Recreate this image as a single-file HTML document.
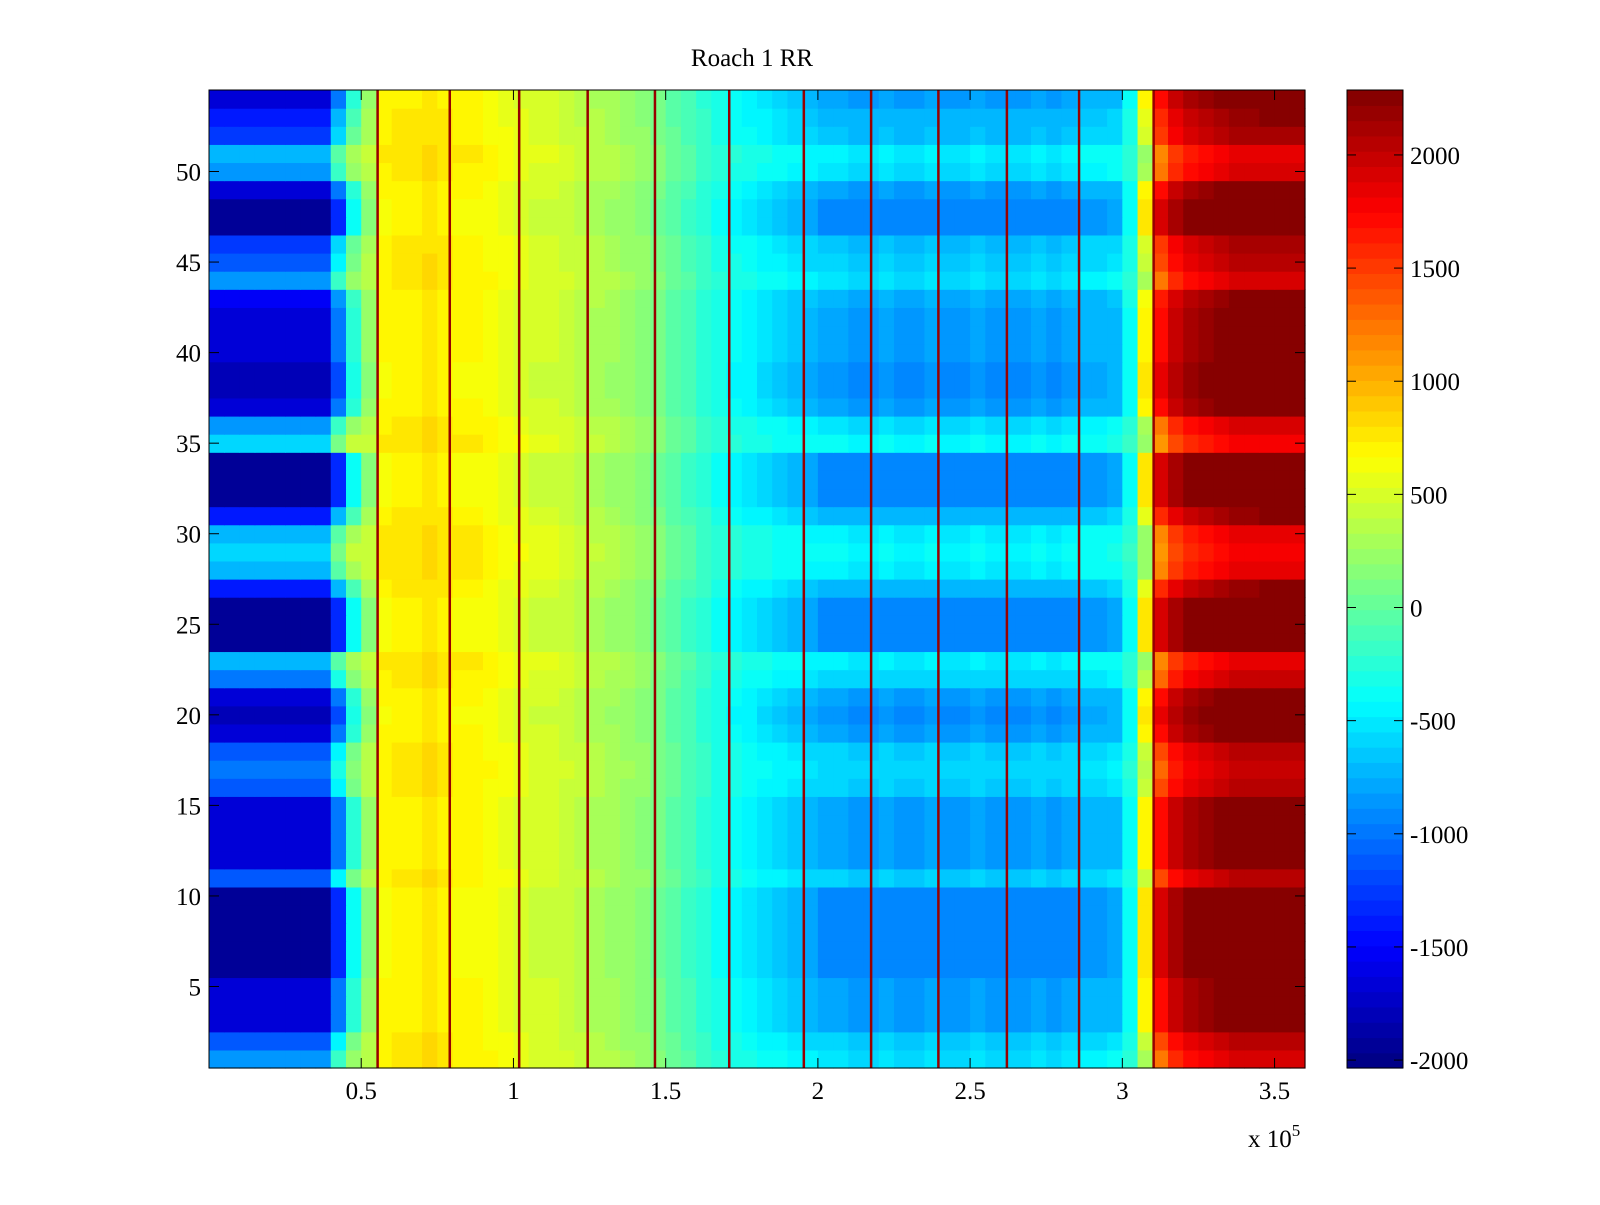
<!DOCTYPE html>
<html><head><meta charset="utf-8"><style>
body{margin:0;background:#fff;}
svg text{font-family:"Liberation Serif",serif;font-size:25px;fill:#000;}
</style></head><body>
<svg id="c" width="1600" height="1200" xmlns="http://www.w3.org/2000/svg"></svg>
<script>
// ---- data ----
const xEdgesStep = 5000; // x units per column bin
const colBase = [-1250,-1250,-1250,-1250,-1250,-1250,-1250,-1250,-600,0,300,
 700,750,750,800,750,700,700,650,600,
 550,500,500,450,400,350,300,250,
 200,100,0,-100,-200,-300,
 -350,-400,-450,-500,-550,-600,
 -650,-650,-700,-700,-650,-700,-700,-650,-700,-700,-650,-700,-700,-700,-650,-700,-650,-600,-600,-550,
 -300,500,1500,1800,1900,2000,2050,2100,2100,2150,2150,2150];
const colAmp = [-1400,-1400,-1400,-1400,-1400,-1400,-1400,-1400,-1400,-800,-300,
 -100,-100,-100,-100,-100,-100,-100,-100,-100,
 -100,-100,-100,-100,-100,-100,-100,-100,
 -100,-100,-100,-100,-100,-100,
 -200,-200,-300,-300,-400,-400,
 -500,-500,-500,-500,-500,-500,-500,-500,-500,-500,-500,-500,-500,-500,-500,-500,-500,-500,-500,-500,
 -200,600,800,700,700,700,700,700,700,700,700,700];
const rowEffect = [0.2,0.4,0.8,0.8,0.8,1,1,1,1,1,0.4,0.8,0.8,0.8,0.8,0.4,0.3,0.4,0.8,0.9,0.8,0.3,0.1,1,1,1,0.6,0.1,0.0,0.1,0.6,1,1,1,0.0,0.2,0.8,0.9,0.9,0.8,0.8,0.8,0.7,0.2,0.4,0.5,1,1,0.8,0.2,0.1,0.5,0.6,0.8];
const spikeX = [55300,79000,101800,124300,146400,170800,195300,217400,239500,262000,285700,310200];
const spikeVal = 2200;
const xTicks = [0.5,1,1.5,2,2.5,3,3.5];
const yTicks = [5,10,15,20,25,30,35,40,45,50];
const cbTicks = [-2000,-1500,-1000,-500,0,500,1000,1500,2000];
// ---- geometry ----
const L=209,R=1305,T=90,B=1068, X0=0,X1=360000, Y0=0.5,Y1=54.5;
const CL=-2035, CH=2287, CBX=1347, CBW=56;
const sx=v=>L+(v-X0)/(X1-X0)*(R-L);
const sy=v=>B-(v-Y0)/(Y1-Y0)*(B-T);
const cy=v=>B-(v-CL)/(CH-CL)*(B-T);
const NS="http://www.w3.org/2000/svg";
const svg=document.getElementById('c');
function mk(tag,attrs,parent){const e=document.createElementNS(NS,tag);for(const k in attrs)e.setAttribute(k,attrs[k]);(parent||svg).appendChild(e);return e;}
function jet(v){let t=(v-CL)/(CH-CL);t=Math.max(0,Math.min(0.9999,t));t=(Math.floor(t*64)+0.5)/64;
 const c=x=>Math.round(255*Math.max(0,Math.min(1,x)));
 return `rgb(${c(1.5-Math.abs(4*t-3))},${c(1.5-Math.abs(4*t-2))},${c(1.5-Math.abs(4*t-1))})`;}
// heatmap
const hm=mk('g',{});


for(let r=0;r<rowEffect.length;r++){for(let c=0;c<colBase.length;c++){
 const v=colBase[c]+colAmp[c]*(rowEffect[r]-0.5);
 const x0=sx(c*xEdgesStep),x1=sx((c+1)*xEdgesStep),y0=sy(r+1.5),y1=sy(r+0.5);
 const e=mk('rect',{x:x0,y:y0,width:x1-x0+0.6,height:y1-y0+0.6,fill:jet(v)},hm);
 
 
}}
spikeX.forEach(s=>{const e=mk('rect',{x:sx(s)-1,y:T,width:2.5,height:B-T,fill:jet(spikeVal)},hm);
 
 });
// axes box
const ax=mk('rect',{x:L,y:T,width:R-L,height:B-T,fill:'none',stroke:'#000','stroke-width':1});


xTicks.forEach(t=>{const x=sx(t*1e5);
 mk('line',{x1:x,x2:x,y1:B,y2:B-10,stroke:'#000'});mk('line',{x1:x,x2:x,y1:T,y2:T+10,stroke:'#000'});
 const e=mk('text',{x:x,y:1099,'text-anchor':'middle'});e.textContent=t;
 
 });
yTicks.forEach(t=>{const y=sy(t);
 mk('line',{x1:L,x2:L+10,y1:y,y2:y,stroke:'#000'});mk('line',{x1:R,x2:R-10,y1:y,y2:y,stroke:'#000'});
 const e=mk('text',{x:L-8,y:y+9,'text-anchor':'end'});e.textContent=t;
 
 });
// colorbar
const cb=mk('g',{});


for(let i=0;i<64;i++){const v0=CL+(CH-CL)*i/64,v1=CL+(CH-CL)*(i+1)/64;
 mk('rect',{x:CBX,y:cy(v1),width:CBW,height:cy(v0)-cy(v1)+0.6,fill:jet((v0+v1)/2)},cb);}
mk('rect',{x:CBX,y:T,width:CBW,height:B-T,fill:'none',stroke:'#000'},cb);
cbTicks.forEach(t=>{const y=cy(t);
 mk('line',{x1:CBX,x2:CBX+9,y1:y,y2:y,stroke:'#000'},cb);mk('line',{x1:CBX+CBW,x2:CBX+CBW-9,y1:y,y2:y,stroke:'#000'},cb);
 const e=mk('text',{x:CBX+CBW+7,y:y+9},cb);e.textContent=t;
 
 });
// title and exponent
const ti=mk('text',{x:752,y:66,'text-anchor':'middle'});ti.textContent='Roach 1 RR';


const ex=mk('text',{x:1248,y:1147});ex.innerHTML='x 10<tspan dy="-11" font-size="17">5</tspan>';


</script>
</body></html>
